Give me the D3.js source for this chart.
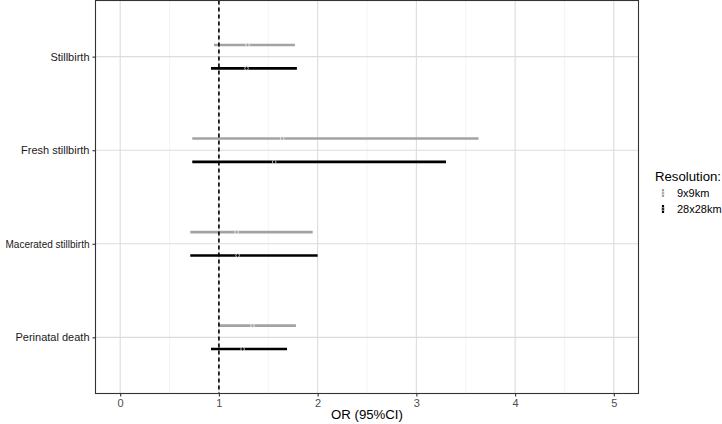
<!DOCTYPE html>
<html><head><meta charset="utf-8">
<script src="https://cdn.jsdelivr.net/npm/d3@7"></script>
<style>body{margin:0;background:#fff;} text{font-family:"Liberation Sans",Arial,sans-serif;}</style>
</head><body><svg id="c" width="722" height="424"></svg>
<script>
const categories = ["Stillbirth","Fresh stillbirth","Macerated stillbirth","Perinatal death"];
const resolutions = ["9x9km","28x28km"];
const or9  = [1.29, 1.64, 1.18, 1.34];
const lo9  = [0.95, 0.73, 0.71, 1.00];
const hi9  = [1.77, 3.63, 1.95, 1.78];
const or28 = [1.28, 1.56, 1.19, 1.24];
const lo28 = [0.92, 0.73, 0.71, 0.92];
const hi28 = [1.79, 3.30, 2.00, 1.69];
const xTicks = [0,1,2,3,4,5];
const xMinor = [0.5,1.5,2.5,3.5,4.5];
const colors = {"9x9km":"#a3a3a3","28x28km":"#000000"};

const rows = [];
categories.forEach((c,i)=>{
  rows.push({cat:c,res:"9x9km",or:or9[i],lo:lo9[i],hi:hi9[i]});
  rows.push({cat:c,res:"28x28km",or:or28[i],lo:lo28[i],hi:hi28[i]});
});

const svg = d3.select("#c");
const L=95.5, R=638.5, T=0.5, B=393.5;
const x = d3.scaleLinear().domain([-0.25,5.25]).range([L,R]);
const y = d3.scalePoint().domain(categories).range([T,B]).padding(0.6);
const off = r => r==="9x9km" ? -11.7 : 11.7;

const g = svg.append("g");
g.selectAll(".mn").data(xMinor).join("line")
  .attr("x1",d=>x(d)).attr("x2",d=>x(d)).attr("y1",T).attr("y2",B)
  .attr("stroke","#ececec").attr("stroke-width",0.6);
g.selectAll(".mj").data(xTicks).join("line")
  .attr("x1",d=>x(d)).attr("x2",d=>x(d)).attr("y1",T).attr("y2",B)
  .attr("stroke","#dcdcdc").attr("stroke-width",1.1);
g.selectAll(".hj").data(categories).join("line")
  .attr("x1",L).attr("x2",R).attr("y1",d=>y(d)).attr("y2",d=>y(d))
  .attr("stroke","#dcdcdc").attr("stroke-width",1.1);

g.selectAll(".eb").data(rows).join("line")
  .attr("x1",d=>x(d.lo)).attr("x2",d=>x(d.hi))
  .attr("y1",d=>y(d.cat)+off(d.res)).attr("y2",d=>y(d.cat)+off(d.res))
  .attr("stroke",d=>colors[d.res]).attr("stroke-width",2.6);
g.selectAll(".pt").data(rows).join("circle")
  .attr("cx",d=>x(d.or)).attr("cy",d=>y(d.cat)+off(d.res)).attr("r",1.8)
  .attr("fill",d=>colors[d.res]).attr("stroke","#ffffff").attr("stroke-width",0.7);

g.append("line").attr("x1",x(1)).attr("x2",x(1)).attr("y1",T).attr("y2",B)
  .attr("stroke","#000").attr("stroke-width",1.6).attr("stroke-dasharray","4,3");

svg.append("rect").attr("x",L).attr("y",T).attr("width",R-L).attr("height",B-T)
  .attr("fill","none").attr("stroke","#333").attr("stroke-width",1.1);

const xa = svg.append("g").attr("transform",`translate(0,${B})`)
  .call(d3.axisBottom(x).tickValues(xTicks).tickSize(3).tickPadding(3).tickFormat(d3.format("d")));
xa.select(".domain").remove();
xa.selectAll(".tick line").attr("stroke","#333").attr("stroke-width",1.1);
xa.selectAll(".tick text").attr("fill","#4d4d4d").attr("font-size",11).attr("font-family","Liberation Sans, Arial, sans-serif");

const ya = svg.append("g").attr("transform",`translate(${L},0)`)
  .call(d3.axisLeft(y).tickSize(3).tickPadding(3));
ya.select(".domain").remove();
ya.selectAll(".tick line").attr("stroke","#333").attr("stroke-width",1.1);
ya.selectAll(".tick text").attr("fill","#1a1a1a").attr("font-size",11).attr("font-family","Liberation Sans, Arial, sans-serif")
  .each(function(){
    const w = this.getComputedTextLength();
    if (w > 84) d3.select(this).attr("textLength",84).attr("lengthAdjust","spacingAndGlyphs");
  });

svg.append("text").attr("x",(L+R)/2).attr("y",419).attr("text-anchor","middle")
  .attr("font-size",13.2).attr("fill","#000").text("OR (95%CI)");

const lg = svg.append("g").attr("transform","translate(655,0)");
lg.append("text").attr("x",0).attr("y",181).attr("font-size",13.2).attr("fill","#000").text("Resolution:");
resolutions.forEach((r,i)=>{
  const cy = 193 + i*16;
  lg.append("line").attr("x1",8).attr("x2",8).attr("y1",cy-4).attr("y2",cy+4)
    .attr("stroke",colors[r]).attr("stroke-width",2.2);
  lg.append("circle").attr("cx",8).attr("cy",cy).attr("r",1.5).attr("fill",colors[r]).attr("stroke","#fff").attr("stroke-width",0.6);
  lg.append("text").attr("x",22).attr("y",cy+4).attr("font-size",11).attr("fill","#000").text(r);
});
</script></body></html>
